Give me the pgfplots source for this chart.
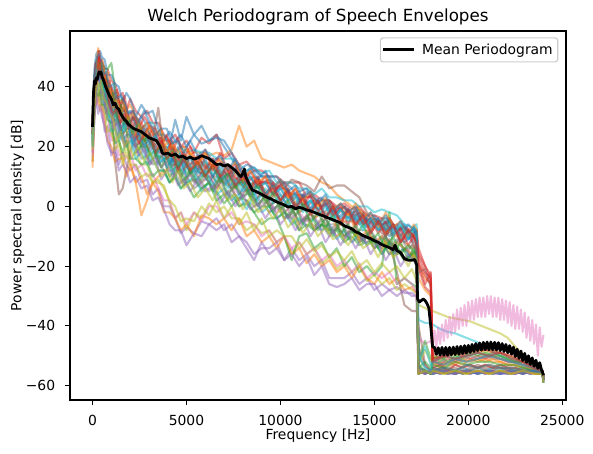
\documentclass[border=0pt]{standalone}
\usepackage{pgfplots}
\pgfplotsset{compat=1.18}
\usepackage{pgfplotstable}
\usepackage{fontspec}
\setmainfont{DejaVu Sans}

% tab10 palette
\definecolor{tabblue}{HTML}{1F77B4}
\definecolor{taborange}{HTML}{FF7F0E}
\definecolor{tabgreen}{HTML}{2CA02C}
\definecolor{tabred}{HTML}{D62728}
\definecolor{tabpurple}{HTML}{9467BD}
\definecolor{tabbrown}{HTML}{8C564B}
\definecolor{tabpink}{HTML}{E377C2}
\definecolor{tabgray}{HTML}{7F7F7F}
\definecolor{tabolive}{HTML}{BCBD22}
\definecolor{tabcyan}{HTML}{17BECF}

\newcommand{\tickfont}{\fontsize{13.9}{16}\selectfont}
\newcommand{\titlefont}{\fontsize{16.7}{20}\selectfont}

% power spectral density [dB] of each recording, one column per recording
\pgfplotstableread{
f s1 s2 s3 s4 s5 s6 s7 s8 s9 s10 s11 s12 s13 s14 s15 s16 s17 s18 s19 s20 s21 s22 s23 s24
0 28 18 25 30 15 22 27 21 15 22 24 13 27 24 18 24 17 28 19 23 28 24 24 21
100 42 39 37 43 29 41 36 38 32 44 35 34 43 38 31 39 31 42 34 33 46 40 37 39
200 48 41 47 47 38 43 47 38 39 47 44 34 49 47 37 40 38 45 36 43 51 46 38 45
300 49 46 44 52 35 46 45 44 41 46 42 36 47 50 31 44 36 48 39 39 52 53 37 44
400 46 44 48 48 38 43 41 42 36 48 43 32 47 46 34 45 38 44 34 41 52 47 39 46
500 48 39 44 49 32 45 44 38 40 43 38 34 48 45 30 40 36 47 34 39 50 49 34 41
650 45 40 42 46 25 37 41 37 31 45 34 28 46 44 27 40 28 40 31 33 49 44 34 41
800 40 36 41 46 27 40 34 31 32 40 36 22 46 42 21 34 31 41 25 33 44 45 29 35
1000 40 30 36 42 17 34 36 30 24 38 28 20 48 40 18 34 22 36 26 25 44 38 28 36
1200 37 32 30 41 20 15 31 29 22 38 29 15 39 34 18 27 23 36 19 26 41 39 21 32
1400 32 28 33 37 14 4 30 23 23 33 29 16 35 35 12 30 17 30 21 22 40 33 22 27
1600 36 24 28 38 18 6 24 25 16 32 22 16 36 32 14 24 18 32 14 24 35 36 18 30
1800 31 26 30 32 14 12 28 20 20 33 24 10 30 32 12 26 16 32 18 20 38 32 22 28
2000 32 15 24 36 12 18 26 22 16 28 24 14 26 28 8 26 18 26 14 22 36 34 16 28
2300 28 8 26 32 14 24 20 20 18 30 18 8 26 30 10 20 12 28 14 16 30 30 16 22
2600 30 -3 22 30 8 20 24 16 14 26 20 10 20 28 6 22 14 22 10 18 34 26 14 26
2900 27 2 24 32 9 23 19 17 14 28 16 4 20 23 7 18 10 26 11 14 31 28 15 20
3200 22 8 20 28 4 20 20 14 8 28 20 8 16 26 2 22 11 20 8 16 32 24 10 22
3500 24 10 16 28 6 15 20 15 8 24 14 5 17 21 3 33 6 22 9 12 26 25 12 18
3800 24 12 18 24 0 18 14 12 7 24 16 -2 16 22 -1 18 2 20 6 12 22 20 12 18
4100 20 13 18 22 0 14 16 8 1 20 16 -2 10 22 -6 14 2 14 2 8 25 22 8 20
4400 29 14 13 24 -4 16 12 11 -4 22 10 -4 12 18 -8 14 -4 18 0 10 22 16 10 14
4700 22 16 15 20 -9 12 15 8 -2 20 15 -8 12 20 -8 10 -2 14 -5 6 24 18 6 17
5000 30 17 11 22 -7 14 9 10 -8 18 10 -6 8 20 -13 14 -6 16 -4 8 20 19 8 13
5400 24 18 13 18 -9 12 13 6 -2 19 12 -10 9 14 -9 8 -2 10 -5 10 24 16 3 15
5800 27 18 11 23 -5 8 10 8 -4 18 11 -3 6 17 -10 11 -5 15 0 5 21 17 6 11
6200 22 17 12 21 -6 10 11 5 1 18 8 -4 8 12 -6 10 0 12 -3 8 22 12 8 14
6600 24 18 8 24 -4 10 6 8 -2 16 12 -6 5 16 -8 6 0 8 2 4 23 14 2 14
7000 20 17 10 16 -8 8 10 4 0 16 7 -4 1 14 -6 10 -4 12 -4 6 22 10 4 8
7400 16 19 6 18 -6 6 7 6 -4 16 10 -8 4 10 -12 6 -2 7 0 2 18 12 0 12
7800 12 27 8 14 -10 8 4 0 -4 14 4 -4 0 14 -10 2 -6 10 -6 4 12 10 3 8
8200 10 20 5 15 -12 6 6 2 -8 12 8 -10 1 8 -14 6 -5 5 -2 -1 14 6 2 11
8600 12 22 1 12 -16 6 6 0 -6 13 4 -8 -2 10 -18 2 -6 7 -8 4 13 8 -2 8
9000 10 16 5 12 -14 8 0 2 -9 11 6 -12 -6 8 -12 4 -10 6 -4 -2 10 7 0 8
9400 10 15 0 10 -14 9 2 -2 -8 12 2 -10 -4 8 -16 0 -8 2 -10 0 10 3 0 8
9800 6 14 2 10 -12 7 -2 0 -12 8 6 -14 -4 6 -14 2 -12 4 -8 -4 10 4 -4 6
10200 8 13 -4 8 -18 6 2 -4 -10 8 2 -10 -10 8 -18 -2 -10 0 -10 -2 6 0 -2 6
10600 6 14 -1 8 -14 9 -4 -2 -16 8 -1 -16 -18 2 -16 0 -14 2 -10 -6 4 4 -4 4
11000 2 12 -5 8 -18 8 -2 -8 -12 6 3 -14 -10 4 -20 -6 -12 -2 -14 -4 5 -2 -8 4
11400 5 11 -4 3 -16 7 -5 -3 -16 6 -2 -19 -9 3 -17 -3 -16 0 -11 -7 6 0 -6 0
11800 1 10 -8 4 -20 5 -3 -8 -14 4 1 -16 -14 3 -23 -7 -14 -4 -15 -4 2 -4 -8 2
12200 2 8 -6 2 -18 10 -8 -6 -19 6 -3 -20 -12 -1 -20 -4 -18 -2 -13 -8 3 -2 -6 0
12600 2 7 -9 2 -24 6 -6 -10 -17 3 0 -18 -17 2 -26 -8 -16 -6 -17 -6 -2 -2 -8 1
13000 -2 4 -7 0 -24 7 -10 -7 -21 3 -4 -22 -14 -1 -27 -6 -20 -6 -15 -11 0 -7 -8 -3
13400 0 2 -10 1 -24 7 -8 -11 -19 2 -2 -20 -20 0 -26 -10 -18 -5 -18 -8 -2 -5 -12 0
13800 -2 0 -8 -1 -22 5 -12 -8 -22 2 -5 -24 -17 -4 -24 -7 -22 -8 -15 -12 -2 -5 -10 -4
14200 -1 -1 -12 0 -26 3 -10 -12 -20 0 -3 -20 -22 -2 -28 -11 -19 -8 -20 -9 -6 -11 -13 -2
14600 -5 -3 -10 -3 -24 -2 -12 -10 -25 0 -7 -24 -20 -4 -26 -9 -24 -8 -18 -13 -4 -8 -12 -6
15000 -3 -5 -14 -3 -28 -6 -10 -14 -23 -2 -4 -26 -23 -7 -26 -11 -22 -13 -22 -11 -6 -12 -12 -4
15400 -6 -6 -12 -4 -26 -9 -15 -12 -26 -1 -8 -22 -20 -4 -30 -14 -24 -10 -19 -16 -6 -10 -16 -7
15800 -5 -9 -16 -4 -28 -12 -12 -16 -24 -2 -5 -26 -2 -8 -28 -11 -22 -14 -22 -12 -10 -14 -12 -4
16200 -8 -10 -14 -8 -27 -22 -16 -14 -28 -3 -9 -24 -26 -6 -30 -16 -26 -11 -20 -16 -8 -12 -14 -8
16600 -6 -12 -18 -7 -29 -33 -14 -18 -26 -6 -7 -28 -24 -11 -28 -14 -24 -15 -24 -14 -12 -14 -18 -7
17000 -10 -14 -16 -8 -29 -35 -18 -15 -28 -7 -12 -27 -26 -9 -30 -17 -26 -13 -21 -18 -10 -16 -16 -10
17250 -8 -13 -20 -8 -30 -35 -15 -19 -29 -6 -9 -29 -27 -12 -30 -14 -29 -15 -25 -15 -11 -18 -15 -8
17350 -55 -20 -54 -14 -56 -40 -44 -50 -33 -38 -56 -55 -52 -19 -56 -47 -55 -22 -53 -55 -56 -24 -54 -17
17700 -56 -24 -55 -20 -55 -53 -46 -54 -34 -39 -55 -56 -45 -26 -55 -53 -56 -21 -48 -56 -55 -28 -52 -22
18000 -55 -26 -56 -25 -56 -55 -45 -55 -35 -39 -56 -55 -51 -22 -56 -55 -55 -27 -52 -55 -56 -30 -54 -24
18100 -55 -53 -56 -51 -56 -55 nan -54 -35 -39.5 -55 -56 -50 -49 -56 -55 -55 -52 -50 -54 -56 -52 -51 -54
18500 -56 -52 -55 -53 -55 -56 nan -53 -36 -41 -56 -55 -52 -51 -55 -54 -56 -51 -51 -55 -55 -54 -50 -53
18900 -55 -54 -56 -51 -56 -55 nan -55 -37 -42 -55 -56 -50 -50 -56 -55 -55 -53 -49 -54 -56 -52 -52 -55
19300 -56 -52 -55 -52 -55 -56 nan -53 -37.5 -42.5 -56 -55 -51 -49 -56 -54 -56 -51 -50 -55 -55 -53 -50 -53
19700 -55 -53 -56 -50 -56 -55 nan -54 -38 -43.5 -55 -56 -49 -50 -55 -55 -55 -52 -48 -54 -56 -51 -51 -54
20100 -56 -51 -55 -51 -55 -56 nan -53 -38.5 -44.5 -56 -55 -50 -48 -56 -54 -56 -50 -49 -55 -55 -52 -49 -53
20500 -55 -52 -56 -50 -56 -55 nan -54 -39.5 -45.5 -55 -56 -49 -49 -55 -53 -55 -51 -48 -54 -56 -51 -50 -54
20900 -56 -51 -55 -51 -55 -56 nan -53 -40.5 -47 -56 -55 -50 -48 -56 -54 -56 -50 -49 -55 -55 -52 -49 -53
21300 -55 -52 -56 -50 -56 -55 nan -54 -41.5 -48.5 -55 -56 -49 -49 -55 -54 -55 -51 -48 -54 -56 -51 -50 -54
21700 -56 -52 -55 -51 -56 -56 nan -53 -42.5 -50 -56 -55 -50 -49 -56 -54 -56 -51 -49 -55 -55 -52 -50 -53
22100 -55 -53 -56 -52 -56 -55 nan -54 -44 -51.5 -55 -56 -51 -50 -55 -55 -55 -52 -50 -54 -56 -53 -51 -54
22500 -56 -53 -55 -52 -56 -56 nan -55 -47 -52.5 -56 -55 -52 -51 -56 -54 -56 -52 -51 -55 -55 -53 -52 -54
22900 -55 -54 -56 -53 -55 -55 nan -54 -49.5 -53.5 -55 -56 -52 -52 -55 -55 -55 -53 -52 -54 -56 -54 -52 -55
23300 -56 -54 -55 -54 -56 -56 nan -55 -52 -54.5 -56 -55 -53 -53 -56 -55 -56 -54 -53 -55 -55 -54 -53 -55
23700 -55 -55 -56 -54 -55 -55 nan -55 -54 -55.5 -55 -56 -54 -54 -55 -55 -55 -55 -54 -55 -56 -55 -54 -55
23950 -56 -55 -56 -55 -56 -56 nan -56 -55.5 -56 -56 -56 -55 -55 -56 -56 -56 -55 -55 -56 -56 -56 -55 -56
24000 -58 -57 -59 -57 -58 -57 nan -58 -58 -58 -59 -58 -57 -57 -58 -58 -59 -57 -57 -58 -58 -58 -57 -58
}\curves

% further recordings, on their own frequency grid
\pgfplotstableread{
f t25 t26 t27 t28 t29 t30 t31 t32 t33 t34 t35 t36 t37 t38 t39 t40
0 28 24 25 27 22 28 20 28 27 24 28 20 25 26 28 20
150 40 44 44 38 42 39 42 48 36 42 42 42 34 46 40 38
250 47 46 48 46 43 47 48 46 44 44 49 46 41 50 42 42
350 45 50 45 48 47 44 45 52 46 48 46 43 44 51 50 39
450 48 44 45 41 48 46 40 48 38 48 48 40 38 49 43 42
575 40 44 40 41 38 47 42 44 39 40 46 41 38 44 43 36
725 41 40 41 35 41 38 41 44 32 43 41 37 31 45 42 35
900 35 42 34 35 37 40 31 38 34 36 41 30 35 40 34 31
1100 36 35 36 31 32 37 35 37 30 38 33 32 26 41 31 29
1300 31 37 28 30 35 32 30 39 23 30 36 28 28 36 33 22
1500 33 33 31 24 31 34 26 33 27 34 31 23 24 37 28 25
1700 27 33 26 28 25 31 28 37 21 28 34 27 20 35 31 20
1900 29 27 29 23 29 27 27 30 25 30 29 27 22 31 26 22
2150 30 30 23 24 25 30 21 32 22 24 31 21 24 32 28 17
2450 24 28 26 19 28 25 25 26 18 28 28 23 17 28 21 20
2750 26 24 21 23 24 27 20 30 20 22 23 21 19 32 24 15
3050 21 27 23 17 20 24 23 27 14 24 27 16 14 28 24 18
3350 24 22 18 19 24 20 18 26 18 17 24 20 16 24 18 14
3650 19 23 21 13 18 23 19 21 13 21 26 15 9 26 22 10
3950 20 18 16 17 20 18 13 24 15 16 18 17 12 26 16 12
4250 15 22 18 12 14 20 16 18 10 19 21 11 12 21 18 8
4550 20 16 13 14 19 14 13 23 12 13 18 15 7 22 12 12
4850 14 18 17 8 13 18 16 16 7 17 20 11 9 18 16 6
5200 16 12 12 12 17 14 11 20 11 11 18 14 5 22 12 8
5600 12 17 15 8 11 17 14 14 7 15 14 9 9 17 15 3
6000 16 13 10 11 15 12 11 19 10 10 18 12 5 19 10 6
6400 10 16 13 5 11 16 13 12 6 14 13 7 7 15 14 2
6800 14 10 9 10 13 10 9 18 9 8 16 12 1 17 10 7
7200 10 14 11 4 8 14 11 12 3 11 12 6 5 12 12 2
7600 13 9 6 7 12 8 7 14 8 6 15 9 0 16 7 4
8000 7 11 11 3 7 11 10 8 3 9 9 5 4 10 10 -1
8400 10 7 5 6 10 6 4 12 5 3 12 8 -1 13 6 3
8800 6 10 8 0 6 10 8 7 0 7 8 2 1 9 9 -2
9200 8 4 4 4 8 4 4 10 4 1 10 6 -4 12 3 0
9600 4 8 6 -2 4 7 7 4 -1 5 6 1 0 6 6 -4
10000 6 2 2 2 6 2 1 8 1 -1 9 4 -6 9 2 -1
10400 2 6 4 -4 2 6 5 3 -4 2 3 0 -3 5 5 -7
10800 4 0 0 0 4 0 -1 6 0 -3 6 3 -8 7 -1 -4
11200 0 4 2 -6 0 3 4 0 -5 1 2 -2 -4 3 3 -9
11600 2 -2 -2 -2 2 -2 -1 4 -2 -5 5 2 -10 5 -3 -5
12000 -1 2 1 -8 -1 2 2 -2 -6 -2 0 -3 -6 1 2 -10
12400 1 -4 -3 -4 2 -4 -3 2 -4 -7 3 0 -12 4 -4 -7
12800 -3 0 -1 -10 -4 0 -1 -3 -9 -3 -1 -5 -8 -2 0 -11
13200 -1 -6 -5 -5 -1 -5 -4 0 -5 -9 1 -1 -13 1 -6 -9
13600 -4 -1 -2 -11 -4 -1 -1 -6 -9 -6 -3 -5 -9 -2 -1 -13
14000 -2 -7 -6 -6 -1 -6 -5 -1 -7 -10 1 -3 -14 0 -6 -9
14400 -6 -3 -4 -12 -7 -2 -3 -6 -12 -6 -4 -8 -10 -5 -3 -14
14800 -4 -9 -8 -8 -4 -8 -7 -4 -8 -12 -2 -4 -16 -2 -9 -12
15200 -8 -5 -5 -14 -7 -4 -4 -9 -12 -9 -7 -8 -12 -6 -5 -17
15600 -5 -10 -9 -10 -4 -10 -8 -5 -10 -14 -2 -6 -18 -3 -9 -12
16000 -9 -6 -6 -16 -9 -6 -6 -10 -14 -10 -7 -10 -14 -8 -6 -17
16400 -7 -12 -10 -12 -6 -12 -10 -7 -10 -16 -5 -6 -20 -5 -12 -15
16800 -11 -8 -8 -18 -10 -8 -6 -13 -15 -13 -10 -11 -16 -9 -8 -20
17100 -8 -13 -10 -14 -7 -10 -8 -10 -12 -15 -6 -7 -18 -7 -10 -16
17250 -10 -15 -12 -17 -9 -13 -10 -12 -15 -17 -8 -9 -20 -9 -13 -18
17350 -55 -21 -54 -56 -52 -55 -56 -16 -55 -53 -56 -50 -55 -54 -19 -56
17700 -56 -27 -55 -55 -47 -56 -55 -20 -56 -55 -55 -54 -56 -55 -23 -55
18000 -55 -29 -56 -56 -53 -55 -56 -23 -55 -56 -56 -55 -55 -56 -26 -56
18100 -56 -52 -55 -55 -52 -54 -56 -51 -56 -53 -55 -52 -56 -55 -52 -55
18700 -55 -53 -54 -56 -50 -55 -55 -50 -55 -54 -56 -53 -55 -54 -50 -56
19300 -56 -51 -55 -55 -51 -56 -56 -49 -56 -52 -55 -51 -56 -55 -51 -55
19900 -55 -52 -53 -56 -50 -55 -55 -49 -55 -53 -56 -52 -55 -53 -50 -56
20500 -56 -51 -54 -55 -49 -54 -56 -48 -55 -52 -55 -51 -56 -54 -49 -55
21100 -55 -50 -53 -56 -50 -55 -55 -48 -56 -52 -56 -50 -55 -53 -50 -56
21700 -56 -51 -54 -55 -49 -54 -56 -49 -55 -53 -55 -51 -56 -54 -49 -55
22300 -55 -52 -54 -56 -51 -55 -55 -50 -56 -53 -56 -52 -55 -54 -51 -56
22900 -56 -53 -55 -55 -52 -56 -56 -52 -55 -54 -55 -53 -56 -55 -52 -55
23500 -55 -54 -55 -56 -54 -55 -55 -54 -56 -55 -56 -54 -55 -55 -54 -56
23950 -56 -55 -56 -56 -55 -56 -56 -55 -56 -56 -56 -55 -56 -56 -55 -56
24000 -58 -57 -58 -59 -57 -58 -58 -57 -59 -58 -58 -57 -58 -58 -57 -59
}\curvesb

\pgfplotsset{
  psd/.style={opacity=0.5, line width=2.08pt, line join=round, forget plot},
}

\begin{document}
\begin{tikzpicture}
\path[use as bounding box] (-70pt,-53pt) rectangle (523pt,400pt);
\begin{axis}[
  at={(0,0)}, anchor=south west,
  width=496pt, height=369pt, scale only axis,
  xmin=-1200, xmax=25200, ymin=-64.8, ymax=58.7,
  scaled x ticks=false, scaled y ticks=false,
  xtick={0,5000,10000,15000,20000,25000},
  xticklabels={0,5000,10000,15000,20000,25000},
  ytick={-60,-40,-20,0,20,40},
  yticklabels={−60,−40,−20,0,20,40},
  tick pos=left,
  tick align=outside, major tick length=4.9pt,
  every tick/.style={black, line width=1.1pt},
  axis line style={line width=1.1pt},
  xticklabel style={font=\tickfont, anchor=base, inner sep=0pt, yshift=-20.4pt},
  yticklabel style={font=\tickfont, anchor=east, inner sep=0pt, xshift=-9.8pt},
  title={Welch Periodogram of Speech Envelopes},
  every axis title/.style={at={([yshift=9.8pt]axis description cs:0.5,1)}, anchor=base, font=\titlefont},
  xlabel={Frequency [Hz]},
  every axis x label/.style={at={([yshift=-39.5pt]axis description cs:0.5,0)}, anchor=base, font=\tickfont},
  ylabel={Power spectral density [dB]},
  every axis y label/.style={at={([xshift=-48.5pt]axis description cs:0,0.5)}, rotate=90, anchor=base, font=\tickfont},
  legend style={at={([xshift=-7.7pt,yshift=-6.3pt]axis description cs:1,1)}, anchor=north east,
    draw=black!20, line width=1.1pt, rounded corners=2.8pt, fill=white, fill opacity=0.8,
    draw opacity=1, text opacity=1, font=\tickfont, inner xsep=3pt, inner ysep=4pt,
    /tikz/every odd column/.append style={column sep=6pt}},
  legend image code/.code={\draw[#1, line cap=rect] (0pt,0pt) -- (27.8pt,0pt);},
]
\addplot[psd, tabblue]   table[x=f, y=s1]  {\curves};
\addplot[psd, taborange] table[x=f, y=s2]  {\curves};
\addplot[psd, tabgreen]  table[x=f, y=s3]  {\curves};
\addplot[psd, tabred]    table[x=f, y=s4]  {\curves};
\addplot[psd, tabpurple] table[x=f, y=s5]  {\curves};
\addplot[psd, tabbrown]  table[x=f, y=s6]  {\curves};
\addplot[psd, tabpink]   table[x=f, y=s7]  {\curves};
\addplot[psd, tabgray]   table[x=f, y=s8]  {\curves};
\addplot[psd, tabolive]  table[x=f, y=s9]  {\curves};
\addplot[psd, tabcyan]   table[x=f, y=s10] {\curves};
\addplot[psd, tabblue]   table[x=f, y=s11] {\curves};
\addplot[psd, taborange] table[x=f, y=s12] {\curves};
\addplot[psd, tabgreen]  table[x=f, y=s13] {\curves};
\addplot[psd, tabred]    table[x=f, y=s14] {\curves};
\addplot[psd, tabpurple] table[x=f, y=s15] {\curves};
\addplot[psd, tabbrown]  table[x=f, y=s16] {\curves};
\addplot[psd, tabpink]   table[x=f, y=s17] {\curves};
\addplot[psd, tabgray]   table[x=f, y=s18] {\curves};
\addplot[psd, tabolive]  table[x=f, y=s19] {\curves};
\addplot[psd, tabcyan]   table[x=f, y=s20] {\curves};
\addplot[psd, tabblue]   table[x=f, y=s21] {\curves};
\addplot[psd, taborange] table[x=f, y=s22] {\curves};
\addplot[psd, tabgreen]  table[x=f, y=s23] {\curves};
\addplot[psd, tabred]    table[x=f, y=s24] {\curves};
\addplot[psd, tabblue]   table[x=f, y=t25] {\curvesb};
\addplot[psd, tabred]    table[x=f, y=t26] {\curvesb};
\addplot[psd, taborange] table[x=f, y=t27] {\curvesb};
\addplot[psd, tabgreen]  table[x=f, y=t28] {\curvesb};
\addplot[psd, tabcyan]   table[x=f, y=t29] {\curvesb};
\addplot[psd, tabbrown]  table[x=f, y=t30] {\curvesb};
\addplot[psd, tabblue]   table[x=f, y=t31] {\curvesb};
\addplot[psd, tabred]    table[x=f, y=t32] {\curvesb};
\addplot[psd, tabgray]   table[x=f, y=t33] {\curvesb};
\addplot[psd, tabgreen]  table[x=f, y=t34] {\curvesb};
\addplot[psd, taborange] table[x=f, y=t35] {\curvesb};
\addplot[psd, tabcyan]   table[x=f, y=t36] {\curvesb};
\addplot[psd, tabpurple] table[x=f, y=t37] {\curvesb};
\addplot[psd, tabblue]   table[x=f, y=t38] {\curvesb};
\addplot[psd, tabred]    table[x=f, y=t39] {\curvesb};
\addplot[psd, tabolive]  table[x=f, y=t40] {\curvesb};
% high-frequency part of recording 7 (rippled hump above the cutoff)
\addplot[psd, tabpink] coordinates {
(18000,-45) (18100,-47) (18200,-41.5) (18300,-47) (18400,-40.5) (18500,-46)
(18600,-39.5) (18700,-45) (18800,-38) (18900,-44) (19000,-37) (19100,-43)
(19200,-36) (19300,-42) (19400,-34.5) (19500,-41) (19600,-34) (19700,-40)
(19800,-33) (19900,-40) (20000,-32) (20100,-38) (20200,-31.5) (20300,-38)
(20400,-31) (20500,-37) (20600,-30.5) (20700,-37) (20800,-30.5) (20900,-37)
(21000,-30) (21100,-36) (21200,-30) (21300,-37) (21400,-30.5) (21500,-37)
(21600,-30.5) (21700,-38) (21800,-31) (21900,-38) (22000,-31.5) (22100,-39)
(22200,-32) (22300,-40) (22400,-33) (22500,-41) (22600,-33.5) (22700,-41)
(22800,-34.5) (22900,-42) (23000,-35.5) (23100,-44) (23200,-37) (23300,-45)
(23400,-38) (23500,-46) (23600,-39.5) (23700,-50) (23800,-40.5) (23900,-47)
(24000,-43)
};
% mean periodogram
\addplot[black, line width=2.78pt, line join=round] coordinates {
(0,26.6) (50,38) (100,42) (150,41) (200,43) (250,42.5) (300,44) (350,45)
(400,44.5) (450,45) (500,43.5) (600,42) (700,40) (800,38.5) (900,37) (1000,36)
(1100,34) (1200,34.5) (1300,33) (1400,32.5) (1500,31) (1600,30) (1700,29)
(1800,28.5) (1900,27.5) (2000,27) (2200,26) (2400,25.5) (2600,25) (2800,24)
(3000,23) (3200,22.5) (3400,22) (3600,20) (3700,18) (3800,17.5) (4000,17.8)
(4200,17) (4400,17.5) (4600,16.5) (4800,16.8) (5000,16) (5200,16.5) (5400,15.8)
(5600,16.2) (5800,17) (6000,16.5) (6200,16) (6400,15) (6600,14) (6800,14.2)
(7000,13.5) (7200,14) (7400,13) (7600,12) (7800,10.5) (7900,10) (8000,11)
(8080,12.5) (8150,10) (8300,8) (8500,5.5) (8700,5) (9000,4) (9300,3) (9500,2.5)
(9800,1.5) (10000,1) (10200,0.5) (10400,-0.2) (10600,0) (10800,-0.8) (11000,-0.3)
(11200,-0.7) (11400,-1.2) (11600,-1.5) (11800,-2) (12000,-2.5) (12200,-3)
(12400,-3.5) (12600,-4) (12800,-4.5) (13000,-5) (13200,-5.5) (13400,-6.5)
(13600,-7) (13800,-7.5) (14000,-8.5) (14200,-9) (14400,-9.8) (14600,-10.3)
(14800,-10.8) (15000,-11.5) (15200,-12) (15400,-12.8) (15600,-13.3) (15800,-13.8)
(16000,-14.5) (16100,-13) (16200,-14.8) (16400,-15.5) (16600,-17.5) (16800,-18)
(17000,-18) (17150,-17.8) (17250,-19.5) (17300,-31) (17400,-32) (17500,-31.5)
(17600,-31) (17700,-31.5) (17800,-32.5) (17900,-34) (18000,-40) (18100,-47)
(18200,-47.2) (18300,-49.5) (18400,-47.3) (18500,-49.8) (18600,-47.2) (18700,-49.8)
(18800,-47.2) (18900,-49.8) (19000,-47.2) (19100,-49.7) (19200,-47.1) (19300,-49.6)
(19400,-46.9) (19500,-49.5) (19600,-46.8) (19700,-49.3) (19800,-46.6) (19900,-49.1)
(20000,-46.5) (20100,-48.9) (20200,-46.2) (20300,-48.6) (20400,-45.9) (20500,-48.3)
(20600,-45.7) (20700,-48.1) (20800,-45.5) (20900,-48) (21000,-45.4) (21100,-48)
(21200,-45.4) (21300,-48) (21400,-45.5) (21500,-48.1) (21600,-45.6) (21700,-48.3)
(21800,-45.9) (21900,-48.6) (22000,-46.2) (22100,-49) (22200,-46.6) (22300,-49.5)
(22400,-47.1) (22500,-50.3) (22600,-47.8) (22700,-50.9) (22800,-48.4) (22900,-51.6)
(23000,-49.2) (23100,-52.2) (23200,-50) (23300,-52.9) (23400,-50.7) (23500,-53.5)
(23600,-51.5) (23700,-54.2) (23800,-52.3) (23900,-54.8) (23950,-55.5) (24000,-56.5)
};
\addlegendentry{Mean Periodogram}
\end{axis}
\end{tikzpicture}
\end{document}
